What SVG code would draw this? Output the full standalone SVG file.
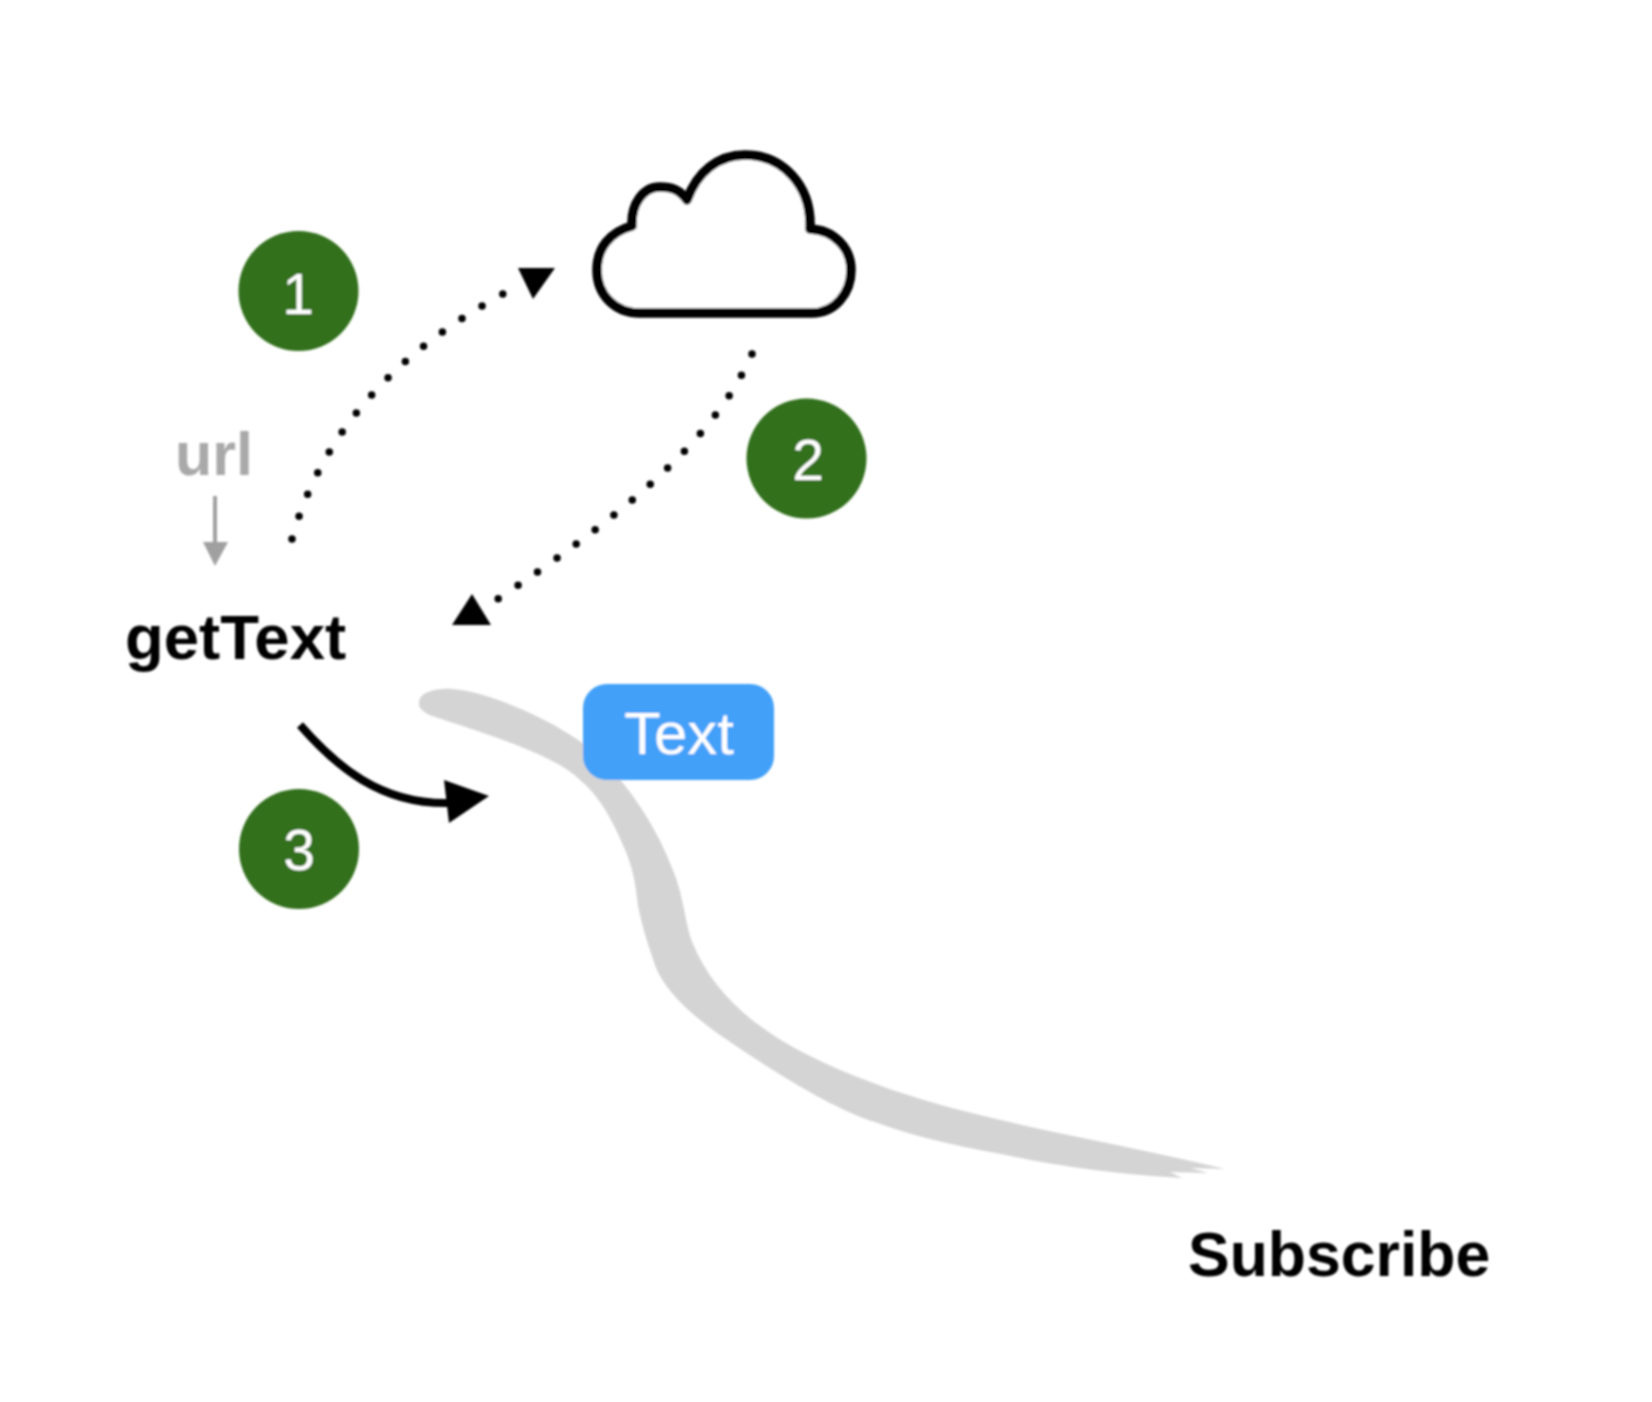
<svg xmlns="http://www.w3.org/2000/svg" width="1652" height="1402" viewBox="0 0 1652 1402">
<style>
text{font-family:"Liberation Sans",Arial,sans-serif}
.b{font-weight:700;fill:#000}
.n{fill:#fff;font-size:57px;text-anchor:middle}
.c{fill:#32701c}
.dot{fill:none;stroke:#000;stroke-width:7.500;stroke-linecap:round;stroke-dasharray:0 1}
</style>
<defs><filter id="soft" x="-5%" y="-5%" width="110%" height="110%"><feGaussianBlur stdDeviation="0.800"/></filter></defs>
<rect width="1652" height="1402" fill="#fff"/>
<g filter="url(#soft)">
<g id="brush"><path fill="#d4d4d4" d="M419 702 C420 692 436 688 453 689 C482 691 535 712 572 736 C615 762 655 822 672 868 C684 895 685 925 693 944 C712 990 750 1025 804 1053 C860 1082 930 1103 972 1113 C1050 1133 1140 1148 1225 1169 L1190 1168 L1208 1173 L1170 1172 L1182 1178 C1120 1175 1050 1165 1001 1154 C950 1145 910 1135 875 1122 C835 1110 770 1070 717 1033 C685 1010 660 985 653 959 C645 935 642 925 638 906 C635 875 630 860 622 843 C610 815 598 795 580 780 C555 755 490 735 432 716 C423 712 418 708 419 702 Z"/></g>
<g id="connectors">
<path class="dot" pathLength="14.010" d="M292 539 C322 430 400 350 503 294"/>
<polygon points="518,268 555,268 533,299" fill="#000"/>
<path class="dot" pathLength="15.010" d="M752 354 C712 445 615 520 498 599"/>
<polygon points="472,594 491,625 452,625" fill="#000"/>
<path d="M300 725 C335 765 380 805 450 803" fill="none" stroke="#000" stroke-width="8"/>
<polygon points="444,780 489,796 449,823" fill="#000"/>
<path d="M215 496 V544" fill="none" stroke="#a0a0a0" stroke-width="4"/>
<polygon points="203,542 228,542 215,566" fill="#a0a0a0"/>
</g>
<g id="cloud"><path d="M640 313 H812 C835 313 851 293 851 270 C851 248 834 230 810 229 C812 185 782 155 745 155 C718 155 697 172 687 200 C680 190 672 187 660 187 C643 187 631 204 632 226 C610 232 597 248 597 270 C597 295 615 313 640 313 Z" fill="#fff" stroke="#000" stroke-width="9.500" stroke-linejoin="round"/></g>
<g id="badge1"><circle class="c" cx="298.500" cy="291" r="60"/><text class="n" x="298" y="314">1</text></g>
<g id="badge2"><circle class="c" cx="806.500" cy="458.500" r="60"/><text class="n" x="808" y="480">2</text></g>
<g id="badge3"><circle class="c" cx="299" cy="849" r="60"/><text class="n" x="299" y="870">3</text></g>
<g id="url"><text x="175" y="475" font-size="61" font-weight="700" fill="#a9a9a9">url</text></g>
<g id="getText"><text class="b" x="125" y="659" font-size="63.500">getText</text></g>
<g id="textNode"><rect x="583" y="684" width="191" height="96" rx="24" fill="#42a0f8"/><text x="679" y="754" font-size="60" fill="#fff" text-anchor="middle">Text</text></g>
<g id="subscribe"><text class="b" x="1188" y="1276" font-size="62.500">Subscribe</text></g>
</g>
</svg>
